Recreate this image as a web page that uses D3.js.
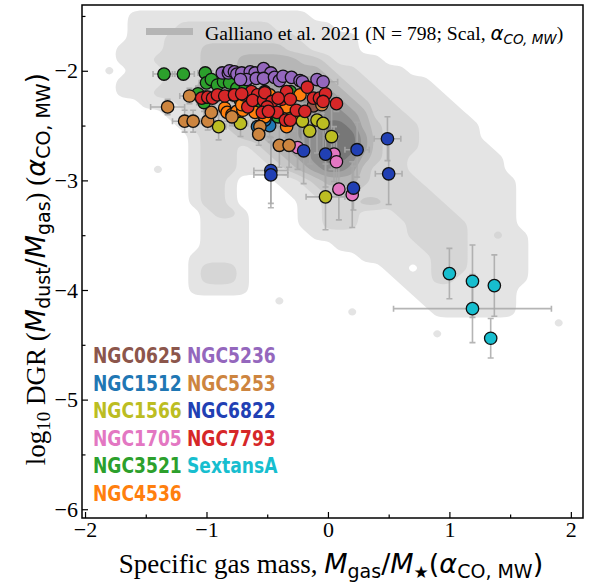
<!DOCTYPE html>
<html>
<head>
<meta charset="utf-8">
<script src="https://cdn.jsdelivr.net/npm/d3@7"></script>
<style>
  body { margin: 0; background: #fff; }
  svg { display: block; }
</style>
</head>
<body>
<svg class="chart"></svg>
<script>
// galaxies: [log Mgas/M*, log DGR, xerr, yerr]
var NGC0625 = [[-0.12, -2.32, 0.05, 0.08]];
var NGC1512 = [[-0.58, -2.51, 0.05, 0.1], [-0.48, -2.50, 0.05, 0.1], [-0.52, -2.45, 0.05, 0.1], [-0.42, -2.41, 0.05, 0.1]];
var NGC1566 = [[-0.90, -2.51, 0.06, 0.12], [-0.72, -2.48, 0.06, 0.12], [-0.29, -2.40, 0.05, 0.15], [-0.21, -2.46, 0.05, 0.25],
               [-0.09, -2.45, 0.05, 0.3], [-0.04, -2.48, 0.05, 0.25], [-0.15, -2.55, 0.05, 0.3], [0.03, -2.60, 0.05, 0.3],
               [-0.02, -3.15, 0.16, 0.3]];
var NGC1705 = [[-0.25, -2.70, 0.04, 0.2], [0.05, -2.76, 0.04, 0.25], [0.07, -2.83, 0.04, 0.25], [0.09, -3.08, 0.03, 0.28], [0.20, -3.13, 0.03, 0.3]];
var NGC3521 = [[-1.35, -2.03, 0.09, 0.05], [-1.19, -2.03, 0.09, 0.05], [-1.01, -2.02, 0.06, 0.05], [-1.00, -2.11, 0.06, 0.06],
               [-0.96, -2.08, 0.05, 0.05], [-0.91, -2.13, 0.05, 0.06], [-0.86, -2.10, 0.05, 0.05], [-0.81, -2.11, 0.05, 0.05],
               [-0.75, -2.16, 0.05, 0.06], [-0.68, -2.15, 0.05, 0.06], [-1.07, -2.21, 0.06, 0.07], [-1.02, -2.29, 0.06, 0.08],
               [-0.78, -2.22, 0.05, 0.06], [-0.72, -2.27, 0.05, 0.07], [-0.31, -2.19, 0.05, 0.07], [-0.41, -2.42, 0.05, 0.1],
               [-0.58, -2.28, 0.05, 0.07]];
var NGC4536 = [[-1.01, -2.24, 0.06, 0.07], [-0.85, -2.34, 0.05, 0.08], [-0.83, -2.38, 0.05, 0.08], [-0.79, -2.40, 0.05, 0.08],
               [-0.75, -2.37, 0.05, 0.08], [-0.70, -2.36, 0.05, 0.08], [-0.60, -2.38, 0.05, 0.08], [-0.52, -2.19, 0.05, 0.07],
               [-0.48, -2.22, 0.05, 0.07], [-0.34, -2.33, 0.05, 0.08], [-0.34, -2.51, 0.05, 0.1], [-0.52, -2.42, 0.05, 0.08],
               [-0.71, -2.31, 0.05, 0.08], [-0.23, -2.22, 0.05, 0.08]];
var NGC5236 = [[-0.87, -2.02, 0.05, 0.05], [-0.82, -2.02, 0.05, 0.05], [-0.81, -2.00, 0.05, 0.05], [-0.77, -2.01, 0.05, 0.05],
               [-0.75, -2.03, 0.05, 0.05], [-0.71, -2.02, 0.05, 0.05], [-0.64, -2.01, 0.05, 0.05], [-0.60, -2.02, 0.05, 0.05],
               [-0.53, -1.98, 0.05, 0.05], [-0.47, -2.02, 0.05, 0.05], [-0.67, -2.08, 0.05, 0.05], [-0.59, -2.07, 0.05, 0.05],
               [-0.53, -2.07, 0.05, 0.05], [-0.44, -2.06, 0.05, 0.05], [-0.40, -2.09, 0.05, 0.05], [-0.37, -2.05, 0.05, 0.05],
               [-0.30, -2.06, 0.05, 0.05], [-0.23, -2.09, 0.05, 0.05], [-0.21, -2.10, 0.05, 0.05], [-0.09, -2.08, 0.06, 0.05],
               [-0.04, -2.10, 0.12, 0.05], [-0.72, -2.08, 0.05, 0.05]];
var NGC5253 = [[-1.32, -2.33, 0.14, 0.07], [-1.18, -2.46, 0.1, 0.1], [-1.11, -2.46, 0.1, 0.1], [-0.99, -2.46, 0.06, 0.08],
               [-0.96, -2.38, 0.06, 0.08], [-1.14, -2.23, 0.08, 0.07], [-0.79, -2.42, 0.05, 0.08], [-0.56, -2.51, 0.05, 0.1],
               [-0.57, -2.58, 0.05, 0.1], [-0.40, -2.68, 0.05, 0.2], [-0.32, -2.68, 0.05, 0.2], [-0.05, -2.31, 0.05, 0.08]];
var NGC6822 = [[-0.20, -2.73, 0.05, 0.3], [-0.02, -2.76, 0.05, 0.3], [0.24, -2.72, 0.1, 0.25], [0.49, -2.62, 0.11, 0.2],
               [0.50, -2.94, 0.11, 0.28], [-0.47, -2.91, 0.14, 0.3], [-0.47, -2.95, 0.14, 0.3], [0.21, -3.07, 0.05, 0.2]];
var NGC7793 = [[-1.04, -2.25, 0.05, 0.07], [-0.99, -2.24, 0.05, 0.07], [-0.95, -2.25, 0.05, 0.07], [-0.91, -2.22, 0.05, 0.07],
               [-0.85, -2.23, 0.05, 0.07], [-0.77, -2.22, 0.05, 0.07], [-0.69, -2.22, 0.05, 0.07], [-0.63, -2.19, 0.05, 0.07],
               [-0.58, -2.22, 0.05, 0.07], [-0.66, -2.33, 0.05, 0.07], [-0.62, -2.27, 0.05, 0.07], [-0.53, -2.27, 0.05, 0.07],
               [-0.52, -2.20, 0.05, 0.07], [-0.46, -2.28, 0.05, 0.07], [-0.50, -2.33, 0.05, 0.07], [-0.54, -2.38, 0.05, 0.07],
               [-0.42, -2.38, 0.05, 0.07], [-0.38, -2.26, 0.05, 0.07], [-0.34, -2.19, 0.05, 0.07], [-0.31, -2.26, 0.05, 0.07],
               [-0.35, -2.45, 0.05, 0.07], [-0.31, -2.45, 0.05, 0.07], [-0.17, -2.15, 0.05, 0.07], [-0.26, -2.36, 0.05, 0.07],
               [-0.19, -2.37, 0.05, 0.07], [-0.12, -2.25, 0.05, 0.07], [-0.07, -2.25, 0.05, 0.07], [-0.02, -2.21, 0.05, 0.07],
               [-0.04, -2.28, 0.05, 0.07], [0.07, -2.30, 0.05, 0.07], [-0.41, -2.25, 0.05, 0.07], [-0.71, -2.21, 0.05, 0.07],
               [-0.49, -2.37, 0.05, 0.07]];
var SextansA = [[1.00, -3.85, 0, 0.23], [1.19, -3.92, 0, 0.33], [1.37, -3.96, 0, 0.28], [1.19, -4.17, 0.65, 0.31], [1.34, -4.44, 0, 0.18]];

var galaxyNames = ['NGC0625', 'NGC1512', 'NGC1566', 'NGC1705', 'NGC3521', 'NGC4536',
                   'NGC5236', 'NGC5253', 'NGC6822', 'NGC7793', 'SextansA'];
var galaxyColors = ['#8c564b', '#1f77b4', '#bcbd22', '#e377c2', '#2ca02c', '#ff7f0e',
                    '#9467bd', '#cd853f', '#2140b4', '#d62728', '#17becf'];
var galaxyPoints = [NGC0625, NGC1512, NGC1566, NGC1705, NGC3521, NGC4536,
                    NGC5236, NGC5253, NGC6822, NGC7793, SextansA];

// Galliano et al. 2021 density levels
// grid: x from -1.9 step 0.1 (40 cols), y from -1.4 step -0.1 (33 rows)
var gridX0 = -1.9, gridY0 = -1.4, gridStep = 0.1;
var densityRows = [
  '0000000000000000000000000000000000000000',
  '0001111111111111110000000000000000000000',
  '0001111222222221111100000000000000000000',
  '0001112222222222211111000000000000000000',
  '0011112223333333221111000000000000000000',
  '0011122223334444433211110000000000000000',
  '0101112223334444444322111100000000000000',
  '0011112223344455555432211111000000000000',
  '0011122233344455555543221111100000000000',
  '0000111223334445566654322111110000000000',
  '0000001122333444556665422211111000000000',
  '0000000122233344566776432221111100000000',
  '0000000012223344566777532221111100000000',
  '0000000012221234556777532221111110000000',
  '0000000012221123456776432211111111000000',
  '0000010012221112345665322211111111000000',
  '0000000012210001123444322221111111100000',
  '0000000012210000112333222222111111100000',
  '0000000012210000011222332222211111100000',
  '0000000001221000011222111222221111100000',
  '0000000001111000011222111122222111100000',
  '0000000001111000001111111122222112110000',
  '0000000001111000000011111112222111110000',
  '0000000011111000000000111111222111110000',
  '0000000012221000000000001101222111110000',
  '0000000012221000000000000111221111110000',
  '0000000011111000000000000011111111100000',
  '0000000000000001000000000001111111100000',
  '0000000000000000000001000000111111100000',
  '0000000000000000000000000000000000000010',
  '0000000000000000000000000000100000000000',
  '0000000000000000000000000000000000000000',
  '0000000000000000000000000000000000000000'
];
var levelThresholds = [0.5, 1.5, 2.5, 3.5, 4.5, 5.5, 6.5];
var levelColors = ['#e4e4e4', '#d6d6d6', '#c7c7c7', '#b6b6b6', '#a3a3a3', '#8e8e8e', '#777777'];

var xTicks = [-2, -1, 0, 1, 2],
    xMinorTicks = [-1.5, -0.5, 0.5, 1.5],
    yTicks = [-6, -5, -4, -3, -2],
    yMinorTicks = [-5.5, -4.5, -3.5, -2.5, -1.5];

function show() {
    'use strict';

    var width = 593, height = 585;
    var plotBox = { left: 82, right: 583, top: 5, bottom: 518 };

    var svg = d3.select('.chart')
        .attr('width', width)
        .attr('height', height);

    var x = d3.scaleLinear().domain([-2.025, 2.1]).range([plotBox.left, plotBox.right]);
    var y = d3.scaleLinear().domain([-6.08, -1.40]).range([plotBox.bottom, plotBox.top]);

    svg.append('clipPath').attr('id', 'plotclip')
        .append('rect')
        .attr('x', plotBox.left).attr('y', plotBox.top)
        .attr('width', plotBox.right - plotBox.left)
        .attr('height', plotBox.bottom - plotBox.top);

    var plot = svg.append('g').attr('clip-path', 'url(#plotclip)');

    // density contours
    var nx = densityRows[0].length, ny = densityRows.length;
    var values = [];
    densityRows.forEach(function(row) {
        for (var k = 0; k < row.length; k++) values.push(+row[k]);
    });
    var contours = d3.contours().size([nx, ny]).thresholds(levelThresholds)(values);

    var ring = d3.line()
        .x(function(p) { return x(gridX0 + (p[0] - 0.5) * gridStep); })
        .y(function(p) { return y(gridY0 - (p[1] - 0.5) * gridStep); })
        .curve(d3.curveBasisClosed);

    plot.selectAll('path.kde').data(contours).enter().append('path')
        .attr('class', 'kde')
        .attr('fill', function(d, i) { return levelColors[i]; })
        .attr('fill-rule', 'evenodd')
        .attr('d', function(d) {
            return d.coordinates.map(function(poly) {
                return poly.map(function(r) { return ring(r.slice(0, -1)); }).join('');
            }).join('');
        });

    // error bars
    var allPoints = [];
    galaxyPoints.forEach(function(pts, g) {
        pts.forEach(function(p) { allPoints.push({ g: g, x: p[0], y: p[1], xe: p[2], ye: p[3] }); });
    });

    var cap = 3;
    var bars = plot.append('g')
        .attr('stroke', '#a8a8a8')
        .attr('stroke-width', 1.6)
        .attr('stroke-opacity', 0.85)
        .attr('fill', 'none');

    allPoints.forEach(function(d) {
        var cx = x(d.x), cy = y(d.y);
        var path = '';
        if (d.xe > 0) {
            var x0 = x(d.x - d.xe), x1 = x(d.x + d.xe);
            path += 'M' + x0 + ',' + cy + 'H' + x1 +
                    'M' + x0 + ',' + (cy - cap) + 'V' + (cy + cap) +
                    'M' + x1 + ',' + (cy - cap) + 'V' + (cy + cap);
        }
        if (d.ye > 0) {
            var y0 = y(d.y - d.ye), y1 = y(d.y + d.ye);
            path += 'M' + cx + ',' + y0 + 'V' + y1 +
                    'M' + (cx - cap) + ',' + y0 + 'H' + (cx + cap) +
                    'M' + (cx - cap) + ',' + y1 + 'H' + (cx + cap);
        }
        bars.append('path').attr('d', path);
    });

    // points
    plot.selectAll('circle.pt').data(allPoints).enter().append('circle')
        .attr('class', 'pt')
        .attr('cx', function(d) { return x(d.x); })
        .attr('cy', function(d) { return y(d.y); })
        .attr('r', 6.2)
        .attr('fill', function(d) { return galaxyColors[d.g]; })
        .attr('stroke', '#111')
        .attr('stroke-width', 1.3);

    // axes
    var serif = '"Liberation Serif", "Times New Roman", serif';
    var fmt = d3.format('d');
    svg.append('g')
        .attr('transform', 'translate(0,' + plotBox.bottom + ')')
        .call(d3.axisBottom(x).tickValues(xTicks).tickFormat(fmt).tickSizeInner(-6).tickSizeOuter(0).tickPadding(3));
    svg.append('g')
        .attr('transform', 'translate(0,' + plotBox.bottom + ')')
        .call(d3.axisBottom(x).tickValues(xMinorTicks).tickSizeInner(-3.5).tickSizeOuter(0).tickFormat(''));
    svg.append('g')
        .attr('transform', 'translate(' + plotBox.left + ',0)')
        .call(d3.axisLeft(y).tickValues(yTicks).tickFormat(fmt).tickSizeInner(-6).tickSizeOuter(0).tickPadding(4));
    svg.append('g')
        .attr('transform', 'translate(' + plotBox.left + ',0)')
        .call(d3.axisLeft(y).tickValues(yMinorTicks).tickSizeInner(-3.5).tickSizeOuter(0).tickFormat(''));

    svg.selectAll('.domain').remove();
    svg.selectAll('.tick line').attr('stroke', '#000').attr('stroke-width', 1.2);
    svg.selectAll('.tick text')
        .attr('font-family', serif)
        .attr('font-size', 22)
        .attr('fill', '#000');

    svg.append('rect')
        .attr('x', plotBox.left).attr('y', plotBox.top)
        .attr('width', plotBox.right - plotBox.left)
        .attr('height', plotBox.bottom - plotBox.top)
        .attr('fill', 'none')
        .attr('stroke', '#000')
        .attr('stroke-width', 1.5);

    // axis labels
    var sans = '"DejaVu Sans", sans-serif';
    var xl = svg.append('text')
        .attr('x', 331).attr('y', 573)
        .attr('text-anchor', 'middle')
        .attr('font-size', 27)
        .attr('fill', '#000');
    xl.append('tspan').attr('font-family', serif).text('Specific gas mass, ');
    xl.append('tspan').attr('font-family', sans).attr('font-style', 'italic').text('M');
    xl.append('tspan').attr('font-family', sans).attr('font-size', 19).attr('dy', 5).text('gas');
    xl.append('tspan').attr('font-family', sans).attr('dy', -5).text('/');
    xl.append('tspan').attr('font-family', sans).attr('font-style', 'italic').text('M');
    xl.append('tspan').attr('font-family', sans).attr('font-size', 17).attr('dy', 5).text('\u2605');
    xl.append('tspan').attr('font-family', sans).attr('dy', -5).text('(');
    xl.append('tspan').attr('font-family', sans).attr('font-style', 'italic').text('\u03b1');
    xl.append('tspan').attr('font-family', sans).attr('font-size', 19).attr('dy', 5).text('CO, MW');
    xl.append('tspan').attr('font-family', sans).attr('dy', -5).text(')');

    var yl = svg.append('text')
        .attr('transform', 'translate(45,269) rotate(-90)')
        .attr('text-anchor', 'middle')
        .attr('font-size', 27)
        .attr('fill', '#000');
    yl.append('tspan').attr('font-family', serif).text('log');
    yl.append('tspan').attr('font-family', serif).attr('font-size', 19).attr('dy', 5).text('10');
    yl.append('tspan').attr('font-family', serif).attr('dy', -5).text(' DGR (');
    yl.append('tspan').attr('font-family', sans).attr('font-style', 'italic').text('M');
    yl.append('tspan').attr('font-family', sans).attr('font-size', 19).attr('dy', 5).text('dust');
    yl.append('tspan').attr('font-family', sans).attr('dy', -5).text('/');
    yl.append('tspan').attr('font-family', sans).attr('font-style', 'italic').text('M');
    yl.append('tspan').attr('font-family', sans).attr('font-size', 19).attr('dy', 5).text('gas');
    yl.append('tspan').attr('font-family', serif).attr('dy', -5).text(') (');
    yl.append('tspan').attr('font-family', sans).attr('font-style', 'italic').text('\u03b1');
    yl.append('tspan').attr('font-family', sans).attr('font-size', 19).attr('dy', 5).text('CO, MW');
    yl.append('tspan').attr('font-family', sans).attr('dy', -5).text(')');

    // density legend
    svg.append('rect')
        .attr('x', 146).attr('y', 28).attr('width', 47).attr('height', 7)
        .attr('fill', '#b5b5b5');
    var lg = svg.append('text')
        .attr('x', 205).attr('y', 40)
        .attr('font-size', 19.7)
        .attr('fill', '#000');
    lg.append('tspan').attr('font-family', serif).text('Galliano et al. 2021 (N = 798; Scal, ');
    lg.append('tspan').attr('font-family', sans).attr('font-style', 'italic').text('\u03b1');
    lg.append('tspan').attr('font-family', sans).attr('font-style', 'italic').attr('font-size', 13.5).attr('dy', 4).text('CO, MW');
    lg.append('tspan').attr('font-family', serif).attr('dy', -4).text(')');

    // galaxy name legend
    svg.selectAll('text.gal').data(galaxyNames).enter().append('text')
        .attr('class', 'gal')
        .attr('transform', function(d, i) {
            return 'translate(' + (i < 6 ? 93 : 187) + ',' + (363 + (i % 6) * 27.6) + ') scale(0.78,1)';
        })
        .attr('font-family', sans)
        .attr('font-weight', 'bold')
        .attr('font-size', 22)
        .attr('fill', function(d, i) { return galaxyColors[i]; })
        .text(function(d) { return d; });
}

show();
</script>
</body>
</html>
